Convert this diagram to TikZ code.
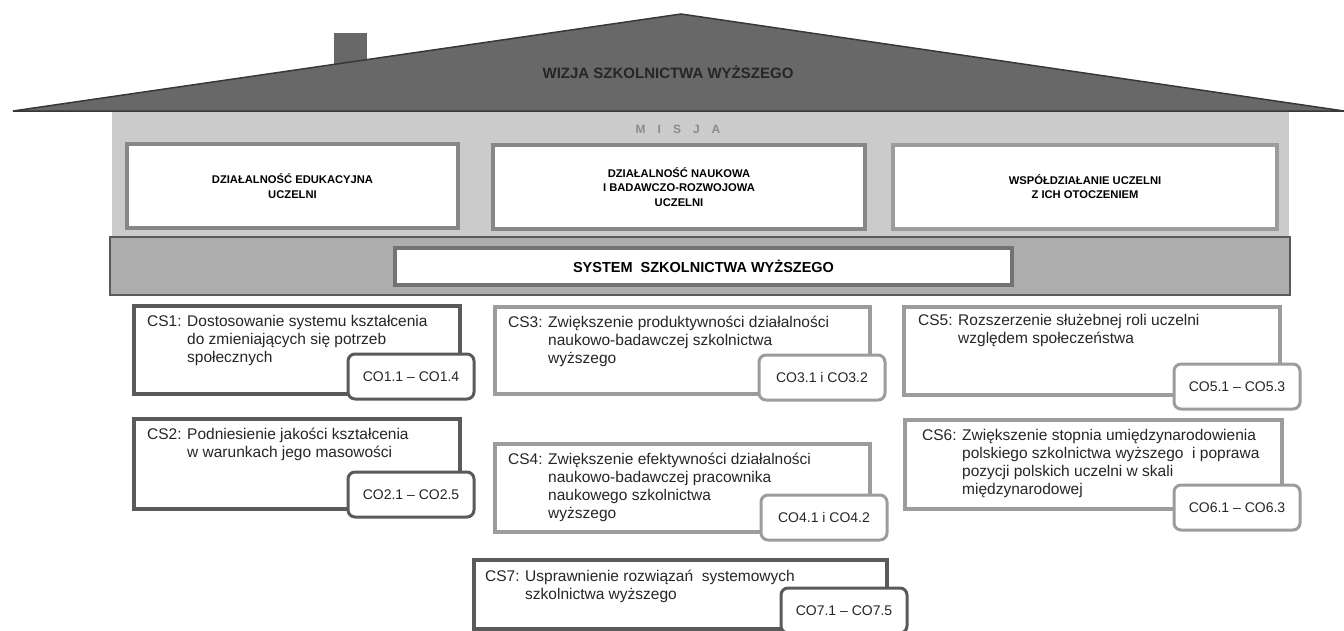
\documentclass[tikz,border=0pt]{standalone}
\usepackage{fontspec}
\setmainfont{Liberation Sans}
\usetikzlibrary{positioning}
\definecolor{roofgray}{HTML}{686868}
\definecolor{rooflinegray}{HTML}{383838}
\definecolor{wallgray}{HTML}{CBCBCB}
\definecolor{bandgray}{HTML}{ADADAD}
\definecolor{darkframe}{HTML}{5A5A5A}
\definecolor{lightframe}{HTML}{9C9C9C}
\definecolor{areaframe}{HTML}{878787}
\definecolor{missiongray}{HTML}{8C8C8C}
\tikzset{
  areabox/.style={rectangle, draw=areaframe, line width=4pt, fill=white, inner sep=0pt,
    minimum height=84pt, align=center, font=\bfseries\fontsize{11.2}{14.5}\selectfont},
  systembox/.style={rectangle, draw=darkframe!85, line width=3.5pt, fill=white, inner sep=0pt,
    minimum width=617pt, minimum height=37pt, font=\bfseries\fontsize{14.5}{17}\selectfont},
  goalbox/.style={rectangle, line width=3.5pt, fill=white, anchor=north west, inner sep=0pt},
  goaltext/.style={anchor=base west, inner sep=0pt, text=black!85, font=\fontsize{15.5}{18}\selectfont},
  tagbox/.style={rectangle, rounded corners=7pt, line width=3pt, fill=white, inner sep=0pt,
    minimum width=126pt, minimum height=45pt, anchor=south east, text=black!85,
    font=\fontsize{14}{16}\selectfont},
  dark/.style={draw=darkframe},
  light/.style={draw=lightframe},
}
\newcommand{\goal}[2]{\makebox[40pt][l]{#1}\begin{tabular}[t]{@{}l@{}}#2\end{tabular}}

\begin{document}
\begin{tikzpicture}[x=1pt, y=-1pt]
  \useasboundingbox (0,0) rectangle (1344,630);

  % house
  \fill[wallgray] (112,111) rectangle (1289,240);
  \fill[roofgray] (334,33) rectangle (367,70);
  \filldraw[fill=roofgray, draw=rooflinegray, line width=1.5pt] (13,111) -- (681,14) -- (1344,111) -- cycle;
  \node[font=\bfseries\fontsize{15}{18}\selectfont, text=black!85] (vision) at (668,72) {WIZJA SZKOLNICTWA WYŻSZEGO};
  \node[font=\bfseries\fontsize{12}{15}\selectfont, text=missiongray] (mission) at (678,129) {M\quad I\quad S\quad J\quad A};

  \node[areabox, minimum width=331pt] (edu) at (292.5,186) {DZIAŁALNOŚĆ EDUKACYJNA\\UCZELNI};
  \node[areabox, minimum width=372pt] (research) at (679,187) {DZIAŁALNOŚĆ NAUKOWA\\I BADAWCZO-ROZWOJOWA\\UCZELNI};
  \node[areabox, minimum width=384pt, draw=lightframe] (society) at (1085,186.5) {WSPÓŁDZIAŁANIE UCZELNI\\Z ICH OTOCZENIEM};

  \filldraw[fill=bandgray, draw=darkframe, line width=2pt] (110,237) rectangle (1290,295);
  \node[systembox] (system) at (703.5,266.5) {SYSTEM~~SZKOLNICTWA WYŻSZEGO};

  % strategic goals
  \node[goalbox, dark, minimum width=326pt, minimum height=88pt] (cs1) at (132,304) {};
  \node[goalbox, dark, minimum width=326pt, minimum height=90pt] (cs2) at (132,417) {};
  \node[goalbox, light, minimum width=375pt, minimum height=87pt] (cs3) at (493,305) {};
  \node[goalbox, light, minimum width=375pt, minimum height=88pt] (cs4) at (493,442) {};
  \node[goalbox, light, minimum width=376pt, minimum height=88pt] (cs5) at (902,305) {};
  \node[goalbox, light, minimum width=377pt, minimum height=89pt] (cs6) at (903,418) {};
  \node[goalbox, dark, minimum width=413pt, minimum height=69pt] (cs7) at (472,558) {};

  \node[goaltext] (cs1 text) at ([shift={(15,22)}]cs1.north west) {\goal{CS1:}{Dostosowanie systemu kształcenia\\do zmieniających się potrzeb\\społecznych}};
  \node[goaltext] (cs2 text) at ([shift={(15,22)}]cs2.north west) {\goal{CS2:}{Podniesienie jakości kształcenia\\w warunkach jego masowości}};
  \node[goaltext] (cs3 text) at ([shift={(15,22)}]cs3.north west) {\goal{CS3:}{Zwiększenie produktywności działalności\\naukowo-badawczej szkolnictwa\\wyższego}};
  \node[goaltext] (cs4 text) at ([shift={(15,22)}]cs4.north west) {\goal{CS4:}{Zwiększenie efektywności działalności\\naukowo-badawczej pracownika\\naukowego szkolnictwa\\wyższego}};
  \node[goaltext] (cs5 text) at ([shift={(16,20)}]cs5.north west) {\goal{CS5:}{Rozszerzenie służebnej roli uczelni\\względem społeczeństwa}};
  \node[goaltext] (cs6 text) at ([shift={(19,22)}]cs6.north west) {\goal{CS6:}{Zwiększenie stopnia umiędzynarodowienia\\polskiego szkolnictwa wyższego~ i poprawa\\pozycji polskich uczelni w skali\\międzynarodowej}};
  \node[goaltext] (cs7 text) at ([shift={(13,23)}]cs7.north west) {\goal{CS7:}{Usprawnienie rozwiązań~ systemowych\\szkolnictwa wyższego}};

  % operational goals
  \node[tagbox, dark] (co1) at ([shift={(14,5)}]cs1.south east) {CO1.1 – CO1.4};
  \node[tagbox, dark] (co2) at ([shift={(14,8)}]cs2.south east) {CO2.1 – CO2.5};
  \node[tagbox, light] (co3) at ([shift={(15,6)}]cs3.south east) {CO3.1 i CO3.2};
  \node[tagbox, light] (co4) at ([shift={(17,8)}]cs4.south east) {CO4.1 i CO4.2};
  \node[tagbox, light] (co5) at ([shift={(20,14)}]cs5.south east) {CO5.1 – CO5.3};
  \node[tagbox, light] (co6) at ([shift={(18,21)}]cs6.south east) {CO6.1 – CO6.3};
  \node[tagbox, dark] (co7) at ([shift={(20,4)}]cs7.south east) {CO7.1 – CO7.5};
\end{tikzpicture}
\end{document}
